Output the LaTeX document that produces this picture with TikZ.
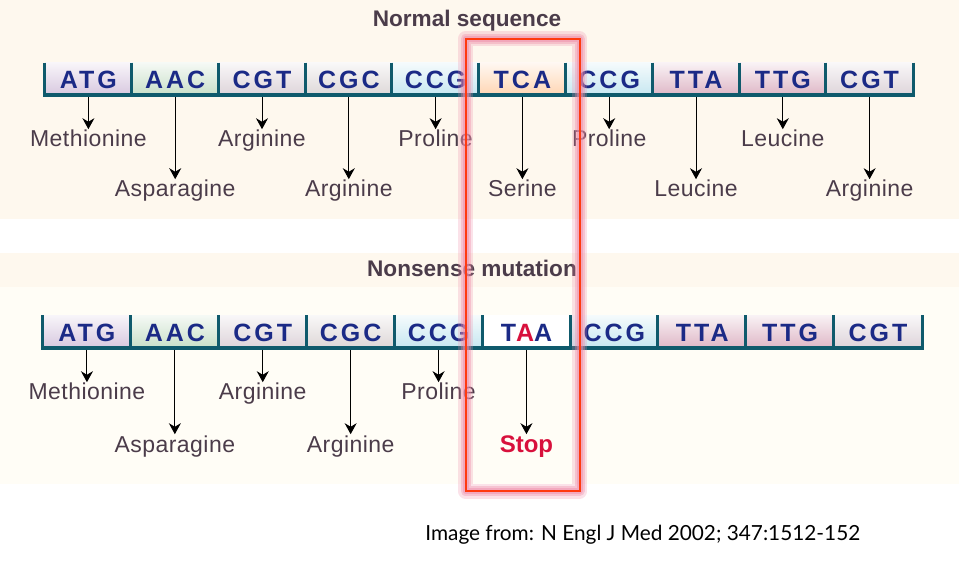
\documentclass[tikz,border=0pt]{standalone}
\usepackage{fontspec}
\setmainfont{Liberation Sans}
\newfontfamily\codonfont{Liberation Sans}[LetterSpace=12]
\newfontfamily\aminofont{Liberation Sans}[LetterSpace=2]
\newfontfamily\creditfont{Lato}
\usetikzlibrary{positioning,arrows.meta}

\definecolor{bgband}    {HTML}{FEF8EE}
\definecolor{bgcream}   {HTML}{FFFDF6}
\definecolor{barteal}   {HTML}{0F5A6C}
\definecolor{basenavy}  {HTML}{1B2A86}
\definecolor{aminogray} {HTML}{4B3C4A}
\definecolor{stopred}   {HTML}{D8103C}
\definecolor{framered}  {HTML}{FF3A10}
\definecolor{glowpink}  {HTML}{EE8AA8}
\definecolor{cATG}{HTML}{D6C6DE}
\definecolor{cAAC}{HTML}{C6DEC6}
\definecolor{cCGT}{HTML}{DCD2D8}
\definecolor{cCGC}{HTML}{DCD6D6}
\definecolor{cCCG}{HTML}{C4E6F0}
\definecolor{cTCA}{HTML}{FFD4B0}
\definecolor{cTTA}{HTML}{DDB4C4}
\definecolor{cTAA}{HTML}{FFFFFF}

\tikzset{
  codonbox/.style={inner sep=0pt, minimum height=17pt, text=basenavy,
    font=\codonfont\bfseries\fontsize{12.5}{14}\selectfont},
  divider/.style={barteal, line width=1.5pt},
  basebar/.style={barteal, line width=2pt},
  amino/.style={anchor=base, inner sep=0.5pt, text height=8.2pt, text depth=0pt,
    text=aminogray, font=\aminofont\fontsize{11.5}{13}\selectfont},
  stoplabel/.style={text=stopred, font=\bfseries\fontsize{12}{13}\selectfont},
  pointer/.style={black, line width=0.5pt, -{Stealth[length=5.5pt,width=6pt]}},
  heading/.style={anchor=base, text=aminogray,
    font=\bfseries\fontsize{11.3}{13}\selectfont},
  glow/.style={glowpink, line join=round},
}

\begin{document}
\begin{tikzpicture}[x=0.5pt, y=-0.5pt]
  \useasboundingbox (0,0) rectangle (959,561);
  %--- background bands ---
  \fill[bgband] (0,0) rectangle (959,219);
  \fill[bgband] (0,253) rectangle (959,287);
  \fill[bgcream] (0,287) rectangle (959,484);

  %--- normal sequence ---
  \node[heading] (normal) at (467,27) {Normal sequence};
  \foreach \cod/\shade [count=\i] in {ATG/cATG,AAC/cAAC,CGT/cCGT,CGC/cCGC,CCG/cCCG,
      TCA/cTCA,CCG/cCCG,TTA/cTTA,TTG/cTTA,CGT/cCGT}
    \node[codonbox, minimum width=43.4pt, top color=\shade!18!white, bottom color=\shade]
      (n\i) at ({45+86.8*(\i-0.5)},80) {\cod};
  \draw[basebar] ([yshift=1pt]n1.south west) -- ([yshift=1pt]n10.south east);
  \foreach \i in {1,...,10}
    \draw[divider] (n\i.north west) -- (n\i.south west);
  \draw[divider] (n10.north east) -- (n10.south east);
  \foreach \amino [count=\i] in {Methionine,Asparagine,Arginine,Arginine,Proline,
      Serine,Proline,Leucine,Leucine,Arginine}{
    \pgfmathsetmacro\ay{mod(\i,2)==1 ? 147 : 197}
    \node[amino] (a\i) at ({45+86.8*(\i-0.5)},\ay) {\amino};
    \draw[pointer] (n\i.south) -- (a\i.north);
  }

  %--- nonsense mutation ---
  \node[heading] (nonsense) at (472,277) {Nonsense mutation};
  \foreach \cod/\shade [count=\i] in {ATG/cATG,AAC/cAAC,CGT/cCGT,CGC/cCGC,CCG/cCCG,
      {T\textcolor{stopred}{A}A}/cTAA,CCG/cCCG,TTA/cTTA,TTG/cTTA,CGT/cCGT}
    \node[codonbox, minimum width=43.95pt, top color=\shade!18!white, bottom color=\shade]
      (m\i) at ({43+87.9*(\i-0.5)},332.5) {\cod};
  \draw[basebar] ([yshift=1pt]m1.south west) -- ([yshift=1pt]m10.south east);
  \foreach \i in {1,...,10}
    \draw[divider] (m\i.north west) -- (m\i.south west);
  \draw[divider] (m10.north east) -- (m10.south east);
  \foreach \amino [count=\i] in {Methionine,Asparagine,Arginine,Arginine,Proline}{
    \pgfmathsetmacro\ay{mod(\i,2)==1 ? 400 : 452}
    \node[amino] (b\i) at ({43+87.9*(\i-0.5)},\ay) {\amino};
    \draw[pointer] (m\i.south) -- (b\i.north);
  }
  \node[amino, stoplabel] (b6) at ({43+87.9*5.5},452) {Stop};
  \draw[pointer] (m6.south) -- (b6.north);

  %--- highlight frame ---
  \draw[glow, opacity=0.25, line width=7.5pt] (465.5,39) rectangle (579.5,491);
  \draw[glow, opacity=0.35, line width=5pt] (465.5,39) rectangle (579.5,491);
  \draw[glow, opacity=0.45, line width=3pt] (465.5,39) rectangle (579.5,491);
  \draw[framered, line width=1pt] (465.5,39) rectangle (579.5,491);

  %--- source ---
  \node[anchor=base west, inner sep=0pt, font=\creditfont\fontsize{10.4}{12}\selectfont]
    (credit) at (425,540) {Image from: N Engl J Med 2002; 347:1512-152};
\end{tikzpicture}
\end{document}
